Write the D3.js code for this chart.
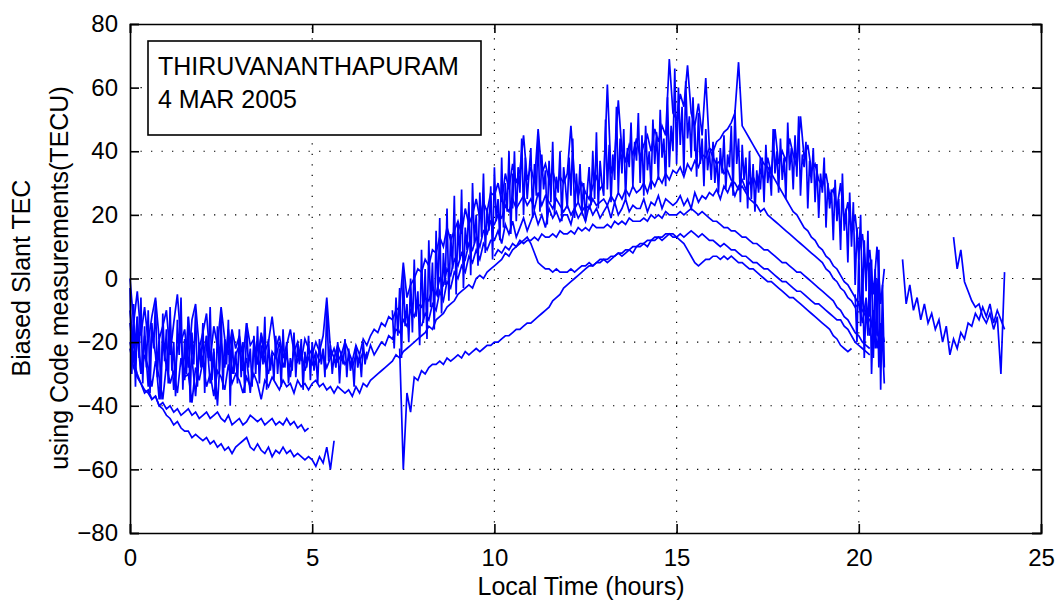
<!DOCTYPE html>
<html>
<head>
<meta charset="utf-8">
<script src="https://cdn.jsdelivr.net/npm/d3@7"></script>
<style>
  html, body { margin: 0; padding: 0; background: #ffffff; }
  svg { display: block; }
  text { font-family: "Liberation Sans", Arial, Helvetica, sans-serif; fill: #000; }
</style>
</head>
<body>
<svg id="chart" width="1057" height="603"></svg>
<script>
// ---------------- DATA ----------------
const xTicks = [0, 5, 10, 15, 20, 25];
const yTicks = [-80, -60, -40, -20, 0, 20, 40, 60, 80];
const stationName = "THIRUVANANTHAPURAM";
const dateLabel = "4 MAR 2005";
const xTitle = "Local Time (hours)";
const yTitleLines = ["Biased Slant TEC", "using Code measurements(TECU)"];
const coarseStep = 0.1;  // hours between samples (main tracks)
const fineStep = 0.05;   // hours between samples (dense noisy segments)

// Main tracks: values sampled every 0.1 h starting at the given start time
const sA_start = 0.0;
const sA = [-22,-28,-31,-33,-36,-35,-38,-37,-40,-41,
  -43,-44,-46,-45,-47,-48,-48,-50,-49,-50,
  -51,-50,-52,-51,-53,-52,-54,-53,-55,-53,
  -52,-51,-50,-53,-54,-52,-54,-55,-53,-56,
  -54,-55,-53,-55,-54,-56,-55,-56,-57,-56,
  -57,-59,-56,-58,-53,-60,-51];

const sB_start = 0.0;
const sB = [-20,-26,-30,-33,-35,-36,-38,-37,-40,-39,
  -41,-40,-42,-41,-43,-42,-41,-43,-42,-44,
  -43,-42,-44,-43,-42,-44,-45,-43,-46,-45,
  -44,-46,-45,-43,-44,-45,-44,-46,-45,-44,
  -46,-45,-46,-44,-46,-45,-47,-46,-48,-47];

const sC_start = 0.0;
const sC = [-10,-22,-18,-30,-24,-28,-34,-26,-31,-38,
  -27,-33,-29,-36,-25,-31,-30,-39,-28,-32,
  -26,-34,-30,-37,-29,-31,-35,-27,-33,-30,
  -32,-36,-31,-34,-30,-33,-38,-32,-34,-31,
  -33,-35,-32,-34,-33,-36,-32,-34,-33,-35,
  -33,-32,-34,-33,-35,-34,-36,-34,-35,-36,
  -35,-37,-34,-36,-33,-34,-32,-31,-30,-29,
  -28,-27,-26,-24,-25,-23,-22,-21,-20,-19,
  -18,-17,-15,-16,-13,-12,-11,-9,-8,-7,
  -5,-4,-3,-2,-3,0,1,0,2,3,
  4,5,6,8,7,9,10,11,12,13,
  11,8,5,4,3,3,2,3,2,2,
  2,3,2,3,4,4,5,4,5,6,
  6,5,6,7,8,7,8,9,8,10,
  10,11,10,12,12,13,12,13,14,13,
  13,14,13,14,15,14,13,14,13,12,
  12,11,10,11,10,9,9,8,7,7,
  6,5,5,4,3,3,2,1,0,-1,
  -1,-2,-3,-4,-4,-5,-6,-7,-8,-8,
  -9,-10,-11,-12,-13,-13,-15,-16,-18,-20,
  -21,-22,-23,-24];

const sU1_start = 0.0;
const sU1 = [0,-14,-4,-18,-9,-20,-12,-6,-19,-15,
  -10,-24,-14,-5,-20,-16,-28,-13,-8,-22,
  -17,-11,-26,-15,-21,-9,-19,-24,-16,-22,
  -18,-25,-14,-21,-19,-27,-17,-23,-20,-12,
  -22,-18,-25,-21,-16,-23,-20,-26,-19,-22,
  -24,-20,-23,-18,-6,-22,-25,-21,-24,-20,
  -23,-26,-21,-24,-19,-21,-18,-16,-17,-14,
  -15,-12,-13,-10,-9,5,-6,-2,0,3,
  2,6,4,9,8,13,10,16,12,15,
  18,14,22,17,20,25,19,24,21,27,
  26,30,24,33,28,36,30,34,45,31,
  35,30,47,33,36,31,34,29,32,30,
  33,48,31,26,30,27,25,29,32,28,
  30,61,33,38,56,40,37,42,39,44,
  38,42,45,40,47,43,48,45,69,52,
  50,58,54,67,52,48,55,45,63,41,
  38,36,37,33,34,31,30,28,29,27,
  25,24,23,21,22,20,19,18,17,16,
  15,14,13,12,11,10,9,8,7,6,
  5,3,2,0,-1,-3,-4,-6,-7,-9,
  -8,-14,-6,-18,-10,-22,-14,-20];

const sU2_start = 0.0;
const sU2 = [-14,-26,-12,-30,-18,-34,-16,-24,-38,-20,
  -28,-14,-35,-22,-19,-32,-12,-25,-37,-21,
  -26,-18,-33,-23,-40,-20,-28,-16,-30,-24,
  -21,-29,-25,-36,-22,-27,-18,-26,-30,-23,
  -25,-20,-28,-24,-31,-22,-26,-23,-29,-25,
  -27,-23,-26,-24,-28,-25,-22,-26,-24,-27,
  -25,-28,-24,-26,-23,-25,-21,-24,-22,-20,
  -21,-18,-19,-16,-17,-13,-15,-10,-12,-8,
  -9,-6,-7,-3,-5,0,-2,3,1,6,
  4,8,6,11,9,13,10,15,14,18,
  17,20,19,23,21,25,22,24,26,23,
  25,22,27,23,26,24,22,25,23,21,
  23,20,22,24,21,23,22,25,23,24,
  25,23,26,24,27,25,28,26,29,27,
  28,30,27,31,29,32,30,33,31,34,
  33,35,32,36,34,37,35,39,38,41,
  40,43,44,46,47,49,52,68,48,46,
  44,42,40,38,36,35,33,31,29,27,
  25,23,21,20,18,16,15,13,12,10,
  9,7,6,4,3,1,-1,-2,-4,-6,
  -8,-10,-12,-13,-16,-17,-20];

const sD_start = 7.4;
const sD = [-22,-60,-36,-42,-31,-32,
  -29,-30,-28,-27,-27,-26,-27,-25,-26,-25,
  -24,-25,-23,-24,-23,-22,-23,-22,-21,-21,
  -20,-20,-19,-18,-18,-17,-16,-16,-15,-14,
  -14,-13,-12,-11,-10,-9,-7,-6,-5,-3,
  -2,-1,0,1,2,3,4,4,5,5,
  6,6,7,7,8,8,9,9,10,10,
  11,11,12,12,13,13,13,14,14,14,
  13,12,11,9,7,5,4,5,6,6,
  7,7,6,7,6,7,6,5,5,4,
  3,3,2,1,0,-1,-1,-2,-3,-4,
  -5,-6,-6,-7,-8,-9,-10,-11,-12,-13,
  -14,-15,-16,-18,-19,-21,-22,-23,-22];

const sP3_start = 8.0;
const sP3 = [-15,-11,-13,-8,-10,-4,-7,-1,-3,2,
  0,4,2,7,5,9,6,11,9,12,
  12,15,11,17,14,18,13,16,19,15,
  18,21,17,20,16,22,19,21,18,20,
  20,17,22,19,21,18,23,20,22,19,
  21,23,19,24,20,22,25,21,23,22,
  22,25,21,24,23,26,22,25,24,23,
  24,26,23,25,22,27,24,26,25,27,
  26,28,25,29,27,30,26,29,31,28,
  30,32,29,34,31,38,33,47,36,40,
  37,44,39,35,51,38,42,34,36,31,
  29,33,26,28,22,30,18,24,15,20,
  8,14,2,9,-5,10,-8,3];

const sP4_start = 10.0;
const sP4 = [7,9,8,10,9,11,10,12,11,12,
  12,13,12,14,13,13,14,13,15,14,
  14,15,14,16,15,16,15,17,16,16,
  16,17,16,18,17,18,17,19,18,18,
  18,19,18,20,19,20,19,21,20,20,
  20,21,20,21,22,21,20,21,20,19,
  18,18,17,16,16,15,15,14,13,13,
  12,11,11,10,9,9,8,7,6,5,
  5,4,3,2,2,1,0,-1,-2,-3,
  -4,-5,-6,-7,-9,-10,-12,-13,-15,-17,
  -18,-20,-21,-22];

const sR1_start = 21.2;
const sR1 = [6,-8,-2,-10,-6,-13,-8,-14,-11,-16,
  -13,-20,-15,-24,-19,-22,-17,-19,-14,-15,
  -11,-13,-9,-12,-8,-14,-10,-13,-16];

const sR2_start = 22.6;
const sR2 = [13,3,9,-1,-4,-7,-9,-8,-12,-14,-11,-16,-12,-30,2];

// Dense noisy segments: values sampled every 0.05 h
const n1_start = 0.0;
const n1 = [-3,-30,-8,-34,-12,-25,-6,-33,-15,-28,
  -10,-36,-14,-22,-7,-31,-18,-38,-11,-26,
  -16,-33,-9,-29,-20,-37,-13,-24,-6,-35,
  -19,-30,-12,-39,-17,-27,-10,-34,-21,-28,
  -14,-36,-18,-25,-9,-32,-22,-38,-15,-29,
  -11,-35,-19,-27,-13,-40,-17,-30,-23,-33,
  -16,-31,-20,-36,-14,-28,-22,-34,-18,-30,
  -15,-33,-21,-27,-12,-35,-19,-29,-24,-32,
  -18,-30,-22,-34,-16,-28,-20,-33,-25,-29,
  -17,-31,-21,-27,-19,-35,-23,-28,-18,-32,
  -20,-29,-24,-33,-19,-27,-22,-31,-9,-26,
  -21,-30,-24,-28,-20,-33,-23,-27,-19,-31,
  -22,-29,-25,-34,-21,-28,-24,-31,-20,-27,
  -23];

const n2_start = 7.2;
const n2 = [-10,-22,-6,-18,-3,-25,2,-15,-8,-20,
  0,-17,6,-12,-4,-21,9,-14,3,-19,
  12,-9,5,-16,15,-6,19,-11,8,-2,
  22,-7,14,3,26,-5,18,6,28,-3,
  16,9,24,1,30,11,20,4,27,13,
  33,8,22,15,29,6,35,18,25,12,
  38,16,30,21,40,14,33];

const n3_start = 10.5;
const n3 = [22,40,18,35,27,44,20,38,25,33,
  41,19,36,26,46,21,39,28,34,17,
  37,24,43,20,32,27,40,18,35,29,
  22,38,26,44,19,33,24,36,21,30,
  18,28,35,23,40,25,46,22,37,30,
  26,50,28,42,24,39,31,54,27,44,
  33,47,25,41,35,49,29,43,37,52,
  30,45,26,48,34,40,28,50,36,46,
  31,53,38,44,29,57,35,48,40,66,
  36,60,42,54,33,62,44,51,38,57,
  40];

const n4_start = 15.5;
const n4 = [48,32,52,36,44,29,47,34,40,31,
  43,30,38,27,41,33,45,28,39,35,
  48,26,53,36,44,24,42,31,38,22,
  40,25,36,21,34,27,38];

const n5_start = 17.3;
const n5 = [28,38,24,42,30,35,26,47,33,40,
  27,44,31,38,25,49,34,41,28,45,
  32,51,26,39,35,43,22,37,30,41,
  24,36,19,33,27,38,16,30,22,28,
  12,31,18,25,9,33,15,22,5,27,
  10,24,-2,16,6,20,-8,12,-4,15,
  -12,6,-25,3,-18,9,-35,-2,-28];

const n6_start = 19.9;
const n6 = [-5,-20,8,-15,2,-25,-8,-18,5,-30,-10,-22,0,-28,-14,-20,-33];

// ---------------- CHART ----------------
const tracks = [
  {start: sA_start, step: coarseStep, values: sA},
  {start: sB_start, step: coarseStep, values: sB},
  {start: sC_start, step: coarseStep, values: sC},
  {start: sD_start, step: coarseStep, values: sD},
  {start: sU2_start, step: coarseStep, values: sU2},
  {start: sU1_start, step: coarseStep, values: sU1},
  {start: sP3_start, step: coarseStep, values: sP3},
  {start: sP4_start, step: coarseStep, values: sP4},
  {start: sR1_start, step: coarseStep, values: sR1},
  {start: sR2_start, step: coarseStep, values: sR2},
  {start: n1_start, step: fineStep, values: n1},
  {start: n2_start, step: fineStep, values: n2},
  {start: n3_start, step: fineStep, values: n3},
  {start: n4_start, step: fineStep, values: n4},
  {start: n5_start, step: fineStep, values: n5},
  {start: n6_start, step: fineStep, values: n6}
];

const plot = {left: 130, right: 1041, top: 24, bottom: 533};
const svg = d3.select("#chart");
svg.append("rect").attr("width", 1057).attr("height", 603).attr("fill", "#ffffff");

const x = d3.scaleLinear().domain([0, 25]).range([plot.left, plot.right]);
const y = d3.scaleLinear().domain([-80, 80]).range([plot.bottom, plot.top]);

// grid (dotted)
const grid = svg.append("g").attr("stroke", "#000").attr("stroke-width", 1.2)
  .attr("stroke-dasharray", "1.3,9.2");
grid.selectAll("line.gx").data(xTicks.filter(d => d > 0 && d < 25)).enter()
  .append("line").attr("x1", d => x(d)).attr("x2", d => x(d))
  .attr("y1", plot.bottom).attr("y2", plot.top);
grid.selectAll("line.gy").data(yTicks.filter(d => d > -80 && d < 80)).enter()
  .append("line").attr("y1", d => y(d)).attr("y2", d => y(d))
  .attr("x1", plot.left).attr("x2", plot.right);

// data traces
const line = d3.line().x(d => x(d.t)).y(d => y(d.v));
const gData = svg.append("g");
tracks.forEach(tr => {
  const pts = tr.values.map((v, i) => ({t: tr.start + i * tr.step, v: v}));
  gData.append("path").datum(pts)
    .attr("d", line)
    .attr("fill", "none")
    .attr("stroke", "#0000ff")
    .attr("stroke-width", 1.7)
    .attr("stroke-linejoin", "miter");
});

// axes (box with inward ticks, MATLAB style)
const tickLen = 9;
const axisG = svg.append("g");
const xAxisB = d3.axisBottom(x).tickValues(xTicks).tickSize(-tickLen).tickPadding(16)
  .tickFormat(d3.format("d"));
const xAxisT = d3.axisTop(x).tickValues(xTicks).tickSize(-tickLen).tickFormat("");
const yAxisL = d3.axisLeft(y).tickValues(yTicks).tickSize(-tickLen).tickPadding(12)
  .tickFormat(d3.format("d"));
const yAxisR = d3.axisRight(y).tickValues(yTicks).tickSize(-tickLen).tickFormat("");

function styleAxis(g) {
  g.select(".domain").attr("stroke", "#000").attr("stroke-width", 1.6);
  g.selectAll(".tick line").attr("stroke", "#000").attr("stroke-width", 1.6);
  g.selectAll(".tick text").attr("font-size", 24)
    .attr("font-family", "'Liberation Sans', Arial, sans-serif").attr("fill", "#000");
}
axisG.append("g").attr("transform", `translate(0,${plot.bottom})`).call(xAxisB).call(styleAxis);
axisG.append("g").attr("transform", `translate(0,${plot.top})`).call(xAxisT).call(styleAxis);
axisG.append("g").attr("transform", `translate(${plot.left},0)`).call(yAxisL).call(styleAxis);
axisG.append("g").attr("transform", `translate(${plot.right},0)`).call(yAxisR).call(styleAxis);

// axis titles
svg.append("text").attr("x", 581).attr("y", 595).attr("text-anchor", "middle")
  .attr("font-size", 25).text(xTitle);
const yt = svg.append("text").attr("text-anchor", "middle").attr("font-size", 25)
  .attr("transform", "translate(30,278) rotate(-90)");
yt.append("tspan").attr("x", 0).attr("y", 0).text(yTitleLines[0]);
yt.append("tspan").attr("x", 0).attr("y", 38).text(yTitleLines[1]);

// annotation box
svg.append("rect").attr("x", 148).attr("y", 41).attr("width", 333).attr("height", 94)
  .attr("fill", "#fff").attr("stroke", "#000").attr("stroke-width", 1.6);
svg.append("text").attr("x", 158).attr("y", 75).attr("font-size", 25).text(stationName);
svg.append("text").attr("x", 158).attr("y", 108).attr("font-size", 25).text(dateLabel);
</script>
</body>
</html>
